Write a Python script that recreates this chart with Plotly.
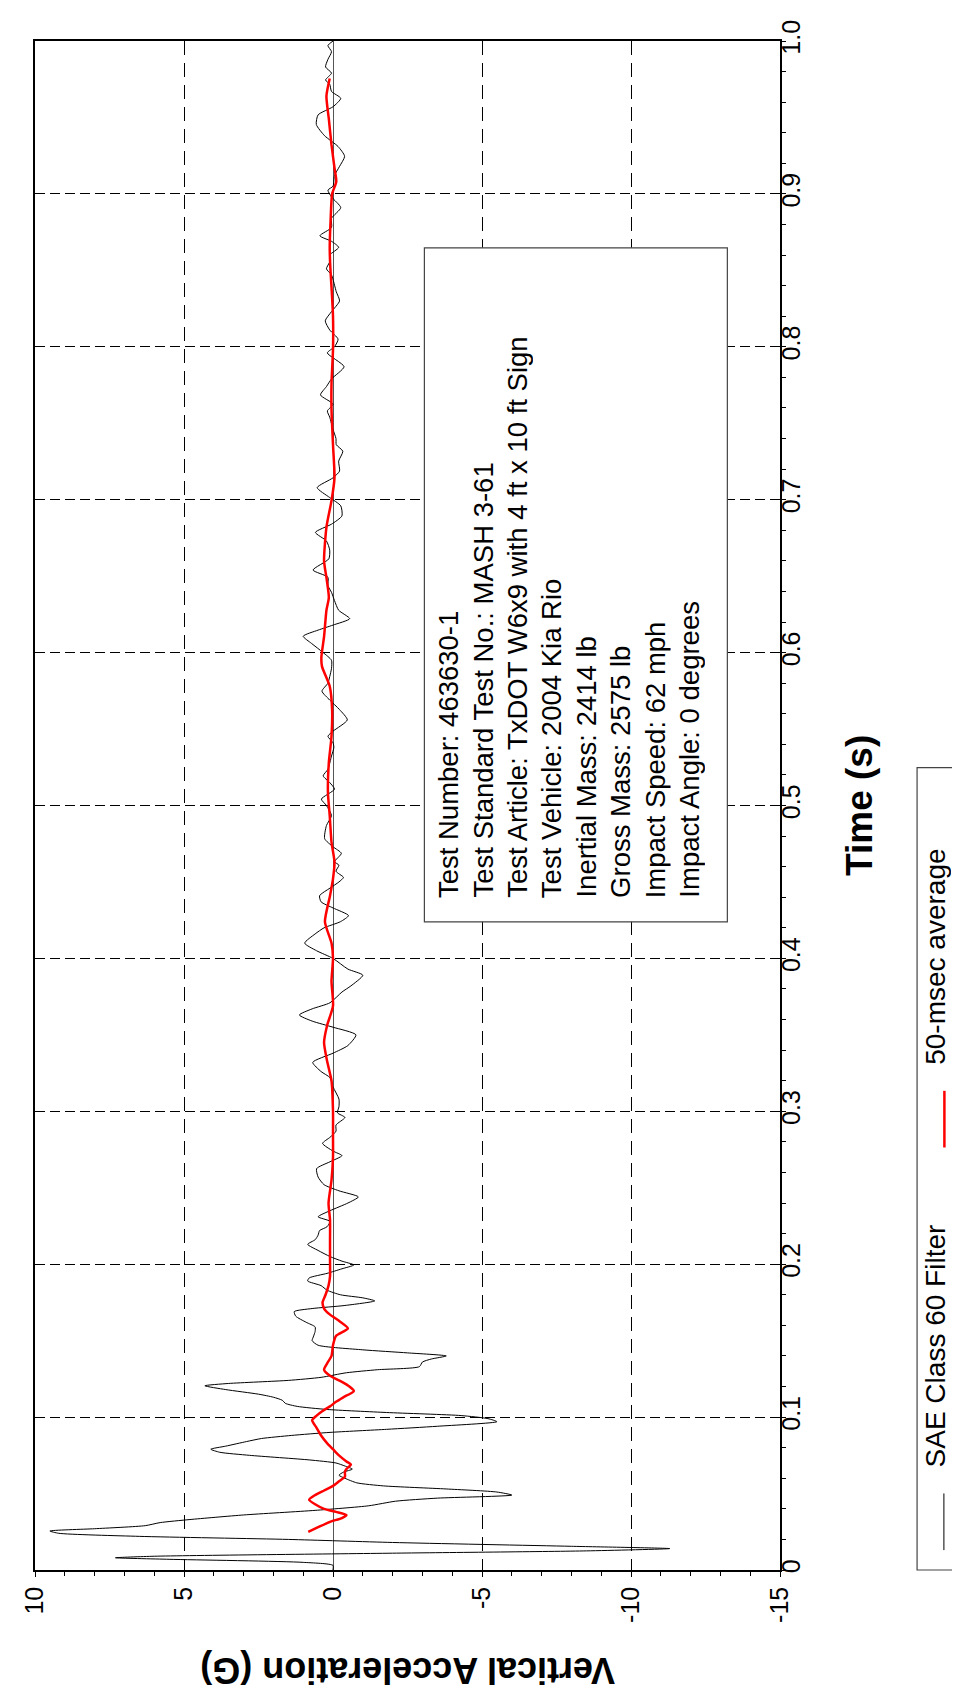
import plotly.graph_objects as go

# ---------------- data ----------------
sae_time = [0.000, 0.003, 0.005, 0.007, 0.008, 0.009, 0.011, 0.0125, 0.014, 0.0155,
            0.018, 0.020, 0.022, 0.024, 0.0255, 0.027, 0.029, 0.031, 0.033, 0.036,
            0.039, 0.042, 0.045, 0.047, 0.049, 0.051, 0.053, 0.055, 0.057, 0.060,
            0.062, 0.064, 0.066, 0.068, 0.070, 0.072, 0.075, 0.077, 0.079, 0.081,
            0.084, 0.086, 0.088, 0.090, 0.092, 0.094, 0.097, 0.099, 0.101, 0.103,
            0.105, 0.107, 0.109, 0.111, 0.113, 0.115, 0.118, 0.1205, 0.122, 0.124,
            0.126, 0.129, 0.131, 0.133, 0.136, 0.138, 0.140, 0.142, 0.144, 0.147,
            0.150, 0.153, 0.156, 0.159, 0.162, 0.166, 0.169, 0.171, 0.173, 0.176,
            0.178, 0.180, 0.183, 0.186, 0.189, 0.191, 0.194, 0.197, 0.1995, 0.202,
            0.205, 0.209, 0.213, 0.216, 0.219, 0.222, 0.2245, 0.228, 0.231, 0.235,
            0.240, 0.244, 0.248, 0.252, 0.257, 0.2625, 0.267, 0.271, 0.274, 0.279,
            0.283, 0.287, 0.291, 0.296, 0.299, 0.303, 0.308, 0.316, 0.322, 0.326,
            0.332, 0.338, 0.343, 0.350, 0.355, 0.359, 0.363, 0.367, 0.371, 0.378,
            0.382, 0.389, 0.393, 0.400, 0.405, 0.410, 0.416, 0.420, 0.424, 0.428,
            0.433, 0.437, 0.441, 0.446, 0.450, 0.453, 0.457, 0.461, 0.4632, 0.4687,
            0.473, 0.4783, 0.4869, 0.4934, 0.500, 0.5042, 0.5107, 0.515, 0.5194, 0.5237,
            0.5324, 0.538, 0.541, 0.5453, 0.5486, 0.556, 0.5627, 0.569, 0.5748, 0.580,
            0.5843, 0.5897, 0.595, 0.600, 0.606, 0.6107, 0.6147, 0.618, 0.6222, 0.6277,
            0.634, 0.6394, 0.6438, 0.6493, 0.654, 0.6613, 0.667, 0.673, 0.6786, 0.684,
            0.6894, 0.696, 0.7014, 0.7079, 0.7143, 0.7187, 0.7252, 0.7317, 0.736, 0.740,
            0.746, 0.754, 0.758, 0.7625, 0.7685, 0.774, 0.779, 0.787, 0.796, 0.800,
            0.805, 0.811, 0.817, 0.823, 0.830, 0.836, 0.847, 0.851, 0.856, 0.860,
            0.865, 0.869, 0.8726, 0.878, 0.884, 0.891, 0.898, 0.9025, 0.905, 0.912,
            0.918, 0.9246, 0.931, 0.938, 0.9454, 0.9517, 0.957, 0.9625, 0.967, 0.9717,
            0.9745, 0.979, 0.983, 0.988, 0.993, 0.997, 1.000]
sae_accel = [0.0, 0.0, 1.0, 5.5, 7.3, 6.0, -2.0, -8.5, -11.3, -8.0,
             -2.0, 1.5, 6.5, 9.2, 9.5, 8.0, 6.3, 5.8, 4.8, 3.0,
             0.6, -1.2, -2.1, -3.5, -6.0, -5.5, -3.8, -1.7, -0.8, -0.4,
             -0.2, -0.35, -0.65, -0.4, -0.1, 0.8, 2.8, 3.8, 4.1, 3.6,
             2.9, 2.4, 1.4, 0.1, -1.8, -3.5, -5.5, -5.2, -4.3, -1.8,
             0.2, 1.2, 1.6, 1.7, 2.0, 2.5, 3.6, 4.3, 3.5, 1.5,
             0.4, -0.45, -1.5, -2.9, -3.0, -3.3, -3.8, -2.5, -1.0, 0.5,
             0.7, 0.65, 0.6, 0.6, 0.9, 1.25, 1.3, 0.7, -0.4, -1.4,
             -1.0, -0.25, 0.2, 0.4, 0.85, 0.8, 0.2, -0.3, -0.7, -0.3,
             0.1, 0.5, 0.85, 0.6, 0.5, 0.45, 0.2, 0.1, 0.5, 0.1,
             -0.5, -0.85, -0.2, 0.3, 0.5, 0.55, 0.1, -0.3, 0.0, 0.35,
             0.1, -0.1, -0.1, -0.4, -0.15, -0.2, -0.2, 0.0, 0.1, 0.4,
             0.68, 0.0, -0.5, -0.77, 0.0, 0.7, 1.13, 0.7, 0.1, -0.3,
             -0.6, -1.0, -0.5, 0.0, 0.55, 0.95, 0.6, 0.3, -0.25, -0.52,
             0.0, 0.4, 0.45, 0.1, -0.2, -0.35, -0.1, -0.2, -0.05, -0.28,
             0.0, 0.28, 0.22, 0.05, 0.22, 0.39, -0.05, 0.11, 0.33, 0.17,
             0.05, -0.03, 0.0, 0.17, 0.0, -0.48, -0.22, 0.11, 0.37, 0.17,
             0.11, 0.05, 0.05, 0.33, 0.72, 1.0, 0.5, 0.0, -0.56, -0.19,
             -0.05, 0.05, 0.17, 0.17, 0.67, 0.14, 0.11, 0.22, 0.59, 0.05,
             -0.3, -0.26, 0.11, 0.53, 0.0, -0.22, -0.19, -0.33, -0.11, -0.1,
             0.0, 0.11, 0.19, 0.0, 0.42, 0.22, 0.05, -0.37, 0.19, -0.05,
             -0.17, 0.11, 0.26, 0.05, -0.22, -0.11, 0.05, 0.22, 0.1, 0.11,
             -0.19, 0.05, 0.44, 0.05, 0.05, -0.26, 0.05, 0.17, 0.0, -0.05,
             -0.22, -0.39, -0.17, 0.28, 0.56, 0.5, 0.0, -0.26, 0.05, 0.11,
             0.25, 0.05, 0.25, 0.17, 0.05, 0.17, 0.0]

avg_time = [0.025, 0.028, 0.0315, 0.034, 0.036, 0.038, 0.040, 0.043, 0.046, 0.049,
            0.052, 0.055, 0.058, 0.061, 0.064, 0.066, 0.069, 0.071, 0.075, 0.079,
            0.083, 0.088, 0.093, 0.098, 0.101, 0.104, 0.107, 0.110, 0.113, 0.117,
            0.120, 0.123, 0.127, 0.131, 0.135, 0.140, 0.147, 0.153, 0.158, 0.163,
            0.167, 0.171, 0.175, 0.180, 0.186, 0.192, 0.203, 0.215, 0.229, 0.240,
            0.255, 0.270, 0.285, 0.300, 0.320, 0.333, 0.345, 0.356, 0.369, 0.385,
            0.400, 0.410, 0.424, 0.441, 0.452, 0.463, 0.476, 0.4934, 0.5085, 0.528,
            0.5453, 0.5627, 0.578, 0.591, 0.597, 0.6104, 0.6277, 0.636, 0.649, 0.660,
            0.682, 0.6994, 0.7143, 0.736, 0.759, 0.776, 0.798, 0.820, 0.839, 0.852,
            0.865, 0.883, 0.900, 0.908, 0.917, 0.932, 0.949, 0.964, 0.9755]
avg_accel = [0.83, 0.5, 0.1, -0.3, -0.45, -0.1, 0.3, 0.6, 0.8, 0.6,
             0.3, 0.0, -0.2, -0.4, -0.4, -0.45, -0.6, -0.45, -0.2, 0.0,
             0.2, 0.4, 0.55, 0.7, 0.55, 0.35, 0.1, -0.1, -0.35, -0.7,
             -0.55, -0.3, 0.1, 0.3, 0.2, 0.05, 0.0, -0.1, -0.5, -0.2,
             0.1, 0.3, 0.35, 0.25, 0.15, 0.1, 0.1, 0.1, 0.1, 0.15,
             0.05, 0.0, 0.0, 0.0, 0.05, 0.2, 0.3, 0.2, 0.0, 0.05,
             0.0, 0.05, 0.27, 0.1, 0.0, -0.05, 0.05, 0.11, 0.17, 0.14,
             0.05, 0.03, 0.11, 0.37, 0.39, 0.3, 0.22, 0.14, 0.22, 0.3,
             0.22, 0.05, -0.05, 0.0, 0.05, 0.05, 0.0, 0.0, 0.05, 0.09,
             0.11, 0.08, 0.03, -0.11, -0.05, 0.05, 0.14, 0.22, 0.11]

accel_ticks = [10, 5, 0, -5, -10, -15]
accel_tick_labels = ["10", "5", "0", "-5", "-10", "-15"]
time_ticks = [0.0, 0.1, 0.2, 0.3, 0.4, 0.5, 0.6, 0.7, 0.8, 0.9, 1.0]
time_tick_labels = ["0", "0.1", "0.2", "0.3", "0.4", "0.5", "0.6", "0.7", "0.8", "0.9", "1.0"]

series_names = ["SAE Class 60 Filter", "50-msec average"]
info_lines = [
    "Test Number: 463630-1",
    "Test Standard Test No.: MASH 3-61",
    "Test Article: TxDOT W6x9 with 4 ft x 10 ft Sign",
    "Test Vehicle: 2004 Kia Rio",
    "Inertial Mass: 2414 lb",
    "Gross Mass: 2575 lb",
    "Impact Speed: 62 mph",
    "Impact Angle: 0 degrees",
]
x_title = "Time (s)"
y_title = "Vertical Acceleration (G)"

# ---------------- layout helpers (pixel -> paper) ----------------
W, H = 960, 1690
L, R, T, B = 22, 772, 24, 1562


def px(x):
    return (x - L) / (R - L)


def py(y):
    return (B - y) / (B - T)


FONT = "Liberation Sans, Arial, sans-serif"

fig = go.Figure()
fig.add_trace(go.Scatter(x=sae_accel, y=sae_time, mode="lines", name=series_names[0],
                         line=dict(color="black", width=1, shape="spline", smoothing=0.6),
                         showlegend=False, hoverinfo="skip"))
fig.add_trace(go.Scatter(x=avg_accel, y=avg_time, mode="lines", name=series_names[1],
                         line=dict(color="#ff0000", width=2.5, shape="spline", smoothing=0.6),
                         showlegend=False, hoverinfo="skip"))

fig.update_layout(
    width=W, height=H, autosize=False,
    margin=dict(l=L, r=W - R, t=T, b=H - B, pad=0),
    paper_bgcolor="white", plot_bgcolor="white",
    showlegend=False,
    xaxis=dict(
        range=[10, -15], tickmode="array", tickvals=accel_ticks, ticktext=accel_tick_labels,
        tickangle=-90, tickfont=dict(family=FONT, size=25, color="black"),
        ticks="outside", ticklen=5, tickwidth=1.2, tickcolor="black",
        minor=dict(tickmode="linear", tick0=0, dtick=1, ticks="outside", ticklen=4,
                   tickwidth=1.2, tickcolor="black", showgrid=False),
        showgrid=True, gridcolor="black", gridwidth=1.2, griddash="14px,8px",
        zeroline=True, zerolinecolor="#555555", zerolinewidth=1.2,
        showline=True, linecolor="black", linewidth=1.5, mirror=True,
    ),
    yaxis=dict(
        side="right", range=[0, 1], tickmode="array", tickvals=time_ticks, ticktext=time_tick_labels,
        tickangle=-90, tickfont=dict(family=FONT, size=25, color="black"),
        ticks="outside", ticklen=4, tickwidth=1.2, tickcolor="black",
        ticklabelstandoff=-16,
        minor=dict(tickmode="linear", tick0=0, dtick=0.02, ticks="outside", ticklen=4,
                   tickwidth=1.2, tickcolor="black", showgrid=False),
        showgrid=True, gridcolor="black", gridwidth=1.2, griddash="10px,5px",
        zeroline=False,
        showline=True, linecolor="black", linewidth=1.5, mirror=True,
    ),
)

shapes = [
    # info box
    dict(type="rect", xref="paper", yref="paper", x0=px(414), x1=px(719), y0=py(910), y1=py(232),
         fillcolor="white", line=dict(color="#444444", width=1.2), layer="above"),
    # legend box
    dict(type="rect", xref="paper", yref="paper", x0=px(910), x1=px(980), y0=py(1562), y1=py(755),
         fillcolor="white", line=dict(color="#444444", width=1.2), layer="above"),
    # legend samples
    dict(type="line", xref="paper", yref="paper", x0=px(937), x1=px(937), y0=py(1542), y1=py(1485),
         line=dict(color="black", width=1), layer="above"),
    dict(type="line", xref="paper", yref="paper", x0=px(937.5), x1=px(937.5), y0=py(1137), y1=py(1080),
         line=dict(color="#ff0000", width=2.5), layer="above"),
]
fig.update_layout(shapes=shapes)


def rotated_left_text(text, cx, y_start, box_len, size):
    # text reading bottom-to-top, starting at y_start (pixels), centred on cx
    return dict(text=text, xref="paper", yref="paper", x=px(cx), y=py(y_start - box_len / 2),
                xanchor="center", yanchor="middle", textangle=-90, showarrow=False,
                width=box_len, align="left", borderpad=0,
                font=dict(family=FONT, size=size, color="black"))


annotations = []
for i, line in enumerate(info_lines):
    annotations.append(rotated_left_text(line, 439 + 34.6 * i, 884, 640, 27.5))
annotations.append(rotated_left_text(series_names[1], 929, 1053, 300, 28))
annotations.append(rotated_left_text(series_names[0], 929, 1458, 300, 28))
annotations.append(dict(text=x_title, xref="paper", yref="paper", x=px(852), y=py(793),
                        xanchor="center", yanchor="middle", textangle=-90, showarrow=False,
                        font=dict(family=FONT, size=37, color="black", weight="bold")))
annotations.append(dict(text=y_title, xref="paper", yref="paper", x=px(397), y=py(1663),
                        xanchor="center", yanchor="middle", textangle=180, showarrow=False,
                        font=dict(family=FONT, size=36, color="black", weight="bold")))
fig.update_layout(annotations=annotations)

fig.write_html("out.html")
